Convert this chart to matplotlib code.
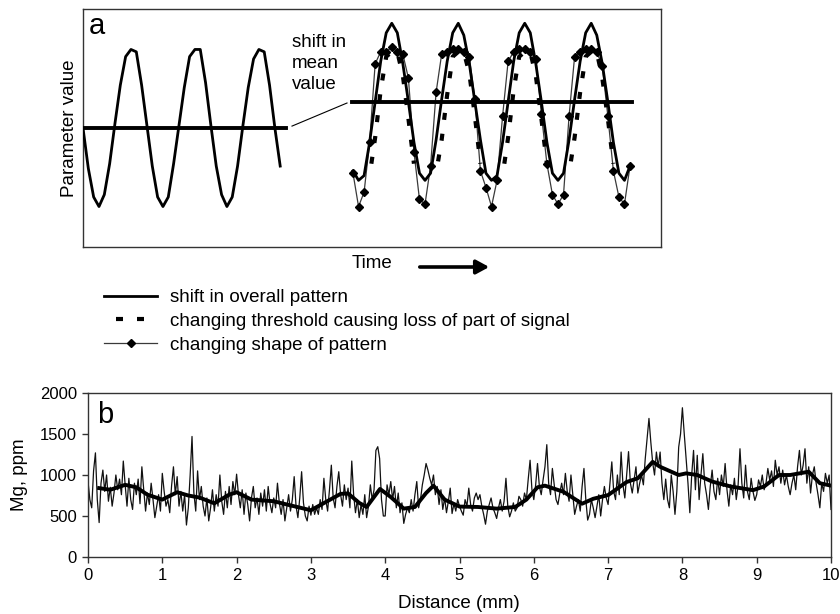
import numpy as np
import matplotlib
matplotlib.use("Agg")
import matplotlib.pyplot as plt
from matplotlib.lines import Line2D

plt.rcParams['font.family'] = ['Liberation Sans', 'DejaVu Sans']

# ---------------- Panel a data ----------------
left_step = 5.33
right_start = 270.0
right_step = 5.54
left_signal = [50, 33, 21, 17, 22, 35, 52, 68, 80, 83, 82, 68,
               51, 34, 21, 17, 21, 35, 51, 67, 80, 83, 83, 69,
               51, 34, 22, 17, 21, 34, 51, 67, 79, 83, 82, 68,
               50, 34]
shift_overall = [32, 28, 30, 44, 61, 78, 90, 94, 90, 77, 61, 44,
                 31, 28, 31, 45, 62, 78, 90, 94, 89, 77, 61, 45,
                 31, 28, 30, 44, 61, 78, 90, 94, 90, 77, 61, 44,
                 31, 28, 31, 45, 62, 78, 90, 94, 89, 77, 61, 44,
                 31, 28, 34]
nan = np.nan
threshold_loss = [nan, nan, nan, 30, 46, 66, 80, 82, 82, 72, 54, 35,
                  nan, nan, nan, 31, 45, 64, 80, 82, 82, 73, 55, 35,
                  nan, nan, nan, 30, 46, 66, 80, 82, 82, 72, 54, 35,
                  nan, nan, nan, 31, 46, 65, 80, 82, 82, 71, 54, 35,
                  nan, nan, nan]
shape_change = [31, 17, 23, 44, 77, 82, 82, 84, 82, 81, 71, 40,
                20, 18, 34, 65, 81, 82, 83, 83, 82, 80, 62, 32,
                25, 17, 28, 55, 78, 82, 83, 83, 82, 79, 56, 35,
                22, 18, 22, 55, 80, 82, 83, 83, 82, 76, 55, 32,
                21, 18, 34]
left_mean = 50
right_mean = 61
left_mean_span = [0, 203]
right_mean_span = [269, 549]
legend_labels = ["shift in overall pattern",
                 "changing threshold causing loss of part of signal",
                 "changing shape of pattern"]

# ---------------- Panel b data ----------------
dist_step = 0.025
mg_raw = [
    920, 700, 600, 1050, 1270, 700, 420, 900, 1060, 800, 1000, 680, 850, 620, 780, 1000, 820, 950, 760, 1170,
    880, 620, 960, 700, 580, 900, 760, 950, 650, 1100, 820, 560, 780, 640, 900, 700, 480, 620, 760, 560,
    1020, 800, 620, 700, 540, 870, 1100, 760, 980, 620, 800, 560, 760, 390, 600, 1000, 1470, 780, 560, 1050,
    700, 860, 620, 500, 720, 440, 600, 820, 560, 760, 620, 1000, 680, 520, 800, 600, 860, 640, 920, 760,
    1010, 760, 600, 820, 520, 780, 640, 440, 720, 860, 600, 720, 520, 780, 620, 820, 560, 860, 650, 540,
    720, 600, 900, 660, 520, 700, 440, 600, 760, 560, 700, 980, 620, 480, 720, 1040, 660, 500, 440, 620,
    510, 640, 520, 600, 520, 700, 580, 960, 700, 560, 820, 1120, 720, 600, 860, 1040, 760, 620, 880, 700,
    840, 600, 1170, 760, 540, 700, 480, 640, 520, 760, 480, 620, 880, 700, 820, 1300, 1345, 1200, 700, 500,
    500, 880, 760, 920, 700, 860, 600, 780, 540, 660, 410, 520, 600, 540, 700, 560, 760, 920, 600, 700,
    880, 1000, 1140, 1060, 960, 880, 1000, 760, 860, 640, 820, 580, 720, 540, 680, 840, 530, 650, 560, 700,
    620, 560, 510, 700, 620, 840, 640, 560, 720, 780, 700, 760, 620, 520, 400, 560, 640, 720, 600, 540,
    470, 600, 700, 560, 680, 960, 620, 490, 560, 660, 560, 600, 740, 700, 620, 780, 700, 950, 1180, 820,
    700, 880, 1140, 860, 760, 940, 1100, 1370, 900, 760, 1080, 880, 700, 640, 780, 900, 760, 1020, 800, 680,
    1000, 760, 520, 620, 700, 560, 860, 1080, 700, 450, 520, 700, 600, 480, 620, 760, 500, 700, 860, 720,
    640, 900, 1160, 800, 700, 1000, 760, 1280, 880, 720, 1000, 1285, 900, 780, 940, 1100, 780, 900, 1000, 880,
    1200, 1450, 1690, 1400, 1150, 1000, 1280, 1100, 1280, 900, 700, 950, 700, 600, 1000, 800, 520, 800, 1340, 1500,
    1820, 1500, 1200, 900, 540, 1000, 1300, 820, 1240, 700, 1000, 1260, 900, 760, 580, 860, 1060, 800, 700, 960,
    760, 1000, 860, 1140, 820, 620, 880, 760, 960, 700, 880, 1320, 900, 720, 1120, 800, 700, 960, 800, 690,
    760, 940, 860, 1000, 820, 900, 1080, 940, 1050, 860, 1180, 1000, 1100, 900, 1060, 880, 1000, 860, 760, 900,
    1000, 820, 1100, 1300, 1000, 1120, 1320, 900, 1100, 780, 1000, 1100, 900, 760, 600, 900, 800, 1020, 900, 1000,
    580]
smooth_x = [0.15, 0.3, 0.5, 0.65, 0.8, 1.0, 1.2, 1.35, 1.5, 1.7, 1.9, 2.0, 2.2, 2.5,
            2.7, 3.0, 3.2, 3.4, 3.5, 3.65, 3.75, 3.93, 4.07, 4.25, 4.4, 4.55, 4.65,
            4.8, 5.0, 5.25, 5.5, 5.75, 5.9, 6.05, 6.15, 6.4, 6.65, 6.8, 7.0, 7.25,
            7.4, 7.6, 7.7, 7.95, 8.05, 8.2, 8.4, 8.65, 8.95, 9.1, 9.3, 9.45, 9.7,
            9.85, 10.0]
smooth_y = [840, 820, 880, 850, 760, 700, 790, 750, 725, 655, 760, 790, 700, 680,
            635, 570, 670, 770, 775, 660, 610, 830, 735, 590, 610, 780, 870,
            700, 615, 610, 590, 610, 700, 850, 870, 795, 650, 710, 755, 915,
            960, 1160, 1100, 1000, 1020, 1000, 920, 860, 815, 860, 1000, 1000, 1040,
            900, 870]
x_ticks = [0, 1, 2, 3, 4, 5, 6, 7, 8, 9, 10]
y_ticks = [0, 500, 1000, 1500, 2000]

W, H = 840, 614
fig = plt.figure(figsize=(W / 100, H / 100), dpi=100)
FS = 13.5
DASH = (2.16, (1.68, 3.36))

# ---------------- Panel a ----------------
axa = fig.add_axes([83 / W, 1 - 247 / H, 578 / W, 238 / H])
t_left = np.arange(len(left_signal)) * left_step
t_right = right_start + np.arange(len(shift_overall)) * right_step

axa.plot(t_left, left_signal, color='black', lw=2.0, zorder=4)
axa.plot(left_mean_span, [left_mean, left_mean], color='black', lw=2.8, zorder=5)
axa.plot(t_right, shape_change, color='#3a3a3a', lw=0.9, marker='D',
         markersize=4, markerfacecolor='black', markeredgecolor='black', zorder=2)
axa.plot(t_right, threshold_loss, color='black', lw=3.0, linestyle=DASH,
         dash_capstyle='butt', zorder=3)
axa.plot(t_right, shift_overall, color='black', lw=2.0, zorder=4)
axa.plot(right_mean_span, [right_mean, right_mean], color='black', lw=2.8, zorder=5)
axa.plot([209, 264], [50.8, 60.5], color='black', lw=0.8)
axa.text(209, 89.5, "shift in\nmean\nvalue", ha='left', va='top', fontsize=FS,
         linespacing=1.3)
axa.text(0.010, 0.897, "a", transform=axa.transAxes, fontsize=21, va='baseline', ha='left')
axa.set_xlim(0, 578)
axa.set_ylim(0, 100)
axa.set_xticks([])
axa.set_yticks([])
for s in axa.spines.values():
    s.set_linewidth(1.0)
    s.set_color('#333333')

fig.text(69 / W, 1 - 128 / H, "Parameter value", rotation=90, ha='center', va='center',
         fontsize=FS)
fig.text(372 / W, 1 - 264 / H, "Time", ha='center', va='center', fontsize=FS)
fig.add_artist(matplotlib.patches.FancyArrowPatch(
    (417 / W, 1 - 267 / H), (492 / W, 1 - 267 / H), transform=fig.transFigure,
    arrowstyle='-|>,head_length=0.7,head_width=0.38', mutation_scale=11,
    lw=2.6, color='black'))

leg_handles = [
    Line2D([], [], color='black', lw=2.0),
    Line2D([], [], color='black', lw=3.0, linestyle=DASH, dash_capstyle='butt'),
    Line2D([], [], color='#3a3a3a', lw=0.9, marker='D', markersize=4,
           markerfacecolor='black', markeredgecolor='black'),
]
fig.legend(leg_handles, legend_labels, loc='upper left',
           bbox_to_anchor=(104 / W, 1 - 289 / H), frameon=False, fontsize=FS,
           handlelength=2.83, handletextpad=0.7, labelspacing=0.36,
           borderpad=0, borderaxespad=0, markerfirst=True)

# ---------------- Panel b ----------------
axb = fig.add_axes([88 / W, 1 - 557 / H, 743 / W, 164 / H])
dist = np.arange(len(mg_raw)) * dist_step
axb.plot(dist, mg_raw, color='#111111', lw=0.9)
axb.plot(smooth_x, smooth_y, color='black', lw=2.8)
axb.set_xlim(0, 10)
axb.set_ylim(0, 2000)
axb.set_xticks(x_ticks)
axb.set_yticks(y_ticks)
axb.tick_params(direction='out', length=4, width=1, labelsize=12, pad=4, color='#333333')
for s in axb.spines.values():
    s.set_linewidth(1.0)
    s.set_color('#333333')
axb.text(0.012, 0.817, "b", transform=axb.transAxes, fontsize=21, va='baseline', ha='left')
fig.text(19 / W, 1 - 475 / H, "Mg, ppm", rotation=90, ha='center', va='center', fontsize=FS)
fig.text(459 / W, 1 - 603 / H, "Distance (mm)", ha='center', va='center', fontsize=FS)

fig.savefig("out.png", dpi=100)
